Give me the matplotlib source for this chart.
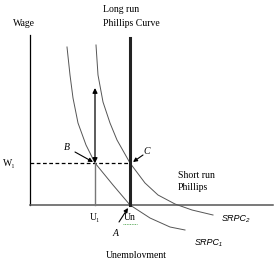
import matplotlib.pyplot as plt

# Kurven (Arbeitslosigkeit u, Lohn w)
srpc1_u = [3.7, 4.0, 4.3, 4.8, 5.6, 6.5, 8.3, 10.0, 12.0, 14.0, 15.5]
srpc1_w = [15.8, 13.0, 10.7, 8.2, 6.0, 4.2, 2.0, 0.0, -1.3, -2.2, -2.5]
srpc2_u = [6.6, 6.8, 7.3, 8.0, 8.7, 10.0, 11.5, 12.8, 14.5, 16.2, 18.3]
srpc2_w = [16.0, 13.0, 10.3, 8.2, 6.5, 4.2, 2.2, 1.0, 0.1, -0.5, -1.0]

u_n = 10.0
u_1 = 6.5
w_1 = 4.2
w_top = 11.7
lrpc_top = 16.7
axis_top = 17.0
axis_right = 24.3

serif = 'Liberation Serif'
sans = 'Liberation Sans'

fig = plt.figure(figsize=(2.75, 2.58), dpi=100)
ax = fig.add_axes([0, 0, 1, 1])
ax.set_xlim(-3, 24.5)
ax.set_ylim(-5.3, 20.5)
ax.axis('off')

# Achsen
ax.plot([0, 0], [0, axis_top], color='black', lw=0.9)
ax.plot([0, axis_right], [0, 0], color='#555555', lw=1.1)

# SRPC Kurven
ax.plot(srpc1_u, srpc1_w, color='#555555', lw=0.7, solid_joinstyle='round')
ax.plot(srpc2_u, srpc2_w, color='#555555', lw=0.7, solid_joinstyle='round')

# LRPC
ax.plot([u_n, u_n], [0, lrpc_top], color='#222222', lw=2.2)

# W1 gestrichelt, U1 Linie
ax.plot([0, u_n], [w_1, w_1], color='black', lw=0.9, ls=(0, (3, 2)))
ax.plot([u_1, u_1], [0, w_1], color='#777777', lw=1.0)
ax.annotate('', xy=(u_1, w_top), xytext=(u_1, w_1),
            arrowprops=dict(arrowstyle='<|-|>', color='black', lw=0.9,
                            mutation_scale=7, shrinkA=0, shrinkB=0))

# Pfeile B, C, A
arr = dict(arrowstyle='-|>', color='black', lw=0.8, mutation_scale=6, shrinkA=0, shrinkB=0)
ax.annotate('', xy=(6.3, 4.3), xytext=(4.5, 5.3), arrowprops=arr)
ax.annotate('', xy=(10.3, 4.3), xytext=(11.3, 5.0), arrowprops=arr)
ax.annotate('', xy=(9.8, -0.3), xytext=(8.9, -1.7), arrowprops=arr)

# Texte
ax.text(-0.6, 18.2, 'Wage', family=serif, fontsize=7, ha='center', va='center')
ax.text(7.3, 19.5, 'Long run', family=serif, fontsize=7, ha='left', va='center')
ax.text(7.3, 18.2, 'Phillips Curve', family=serif, fontsize=7, ha='left', va='center')
ax.text(-2.7, w_1, 'W₁', family=serif, fontsize=7, ha='left', va='center')
ax.text(3.7, 5.8, 'B', family=serif, fontsize=7, style='italic', ha='center', va='center')
ax.text(11.7, 5.3, 'C', family=serif, fontsize=7, style='italic', ha='center', va='center')
ax.text(8.6, -2.9, 'A', family=serif, fontsize=7, style='italic', ha='center', va='center')
ax.text(u_1, -1.3, 'U₁', family=serif, fontsize=7, ha='center', va='center')
ax.text(u_n, -1.3, 'Un', family=serif, fontsize=7, ha='center', va='center')
ax.plot([9.3, 10.7], [-1.9, -1.9], color='#3a9a3a', lw=0.6, ls=(0, (1, 1)))
ax.text(10.6, -5.0, 'Unemployment', family=serif, fontsize=7, ha='center', va='center')
ax.text(14.8, 3.0, 'Short run', family=serif, fontsize=7, ha='left', va='center')
ax.text(14.8, 1.7, 'Phillips', family=serif, fontsize=7, ha='left', va='center')
ax.text(19.2, -1.3, 'SRPC₂', family=sans, fontsize=6.5, style='italic', ha='left', va='center')
ax.text(16.5, -3.7, 'SRPC₁', family=sans, fontsize=6.5, style='italic', ha='left', va='center')

fig.savefig('out.png', dpi=100)
